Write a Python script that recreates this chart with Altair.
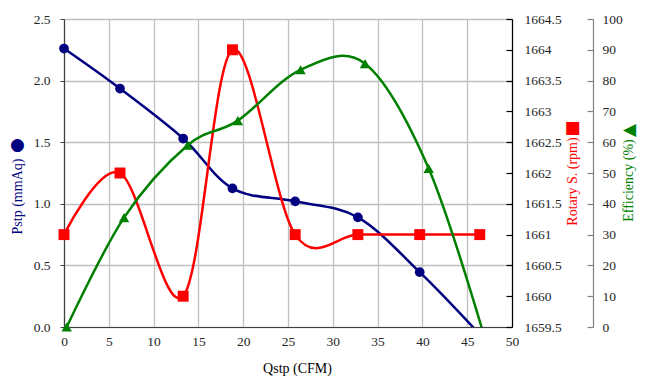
import altair as alt
import pandas as pd

# ---- data ----
q_main = [0.0, 6.25, 13.3, 18.8, 25.8, 32.8, 39.7, 46.4]
pstp = [2.26, 1.935, 1.53, 1.125, 1.02, 0.89, 0.445, -0.06]
rotary = [1661, 1662, 1660, 1664, 1661, 1661, 1661, 1661]
q_eff = [0.3, 6.7, 13.8, 19.4, 26.4, 33.6, 40.7, 47.0]
eff = [0, 35.5, 59, 67, 83.5, 85.5, 51.5, -4]

x_ticks = [0, 5, 10, 15, 20, 25, 30, 35, 40, 45, 50]
pstp_ticks = [0.0, 0.5, 1.0, 1.5, 2.0, 2.5]
rot_ticks = [1659.5, 1660, 1660.5, 1661, 1661.5, 1662, 1662.5, 1663, 1663.5, 1664, 1664.5]
eff_ticks = [0, 10, 20, 30, 40, 50, 60, 70, 80, 90, 100]

df_p = pd.DataFrame({"Q": q_main, "v": pstp})
df_r = pd.DataFrame({"Q": q_main, "v": rotary})
df_e = pd.DataFrame({"Q": q_eff, "v": eff})

NAVY = "#000080"
RED = "#FF0000"
GREEN = "#008000"
GRID = "#C0C0C0"
FONT = "Liberation Serif"
SYM_FONT = "DejaVu Sans"

txt = dict(labelFont=FONT, titleFont=FONT, labelFontSize=13.5, titleFontSize=14,
           labelColor="#262626", titleFontWeight="normal", labelFlush=False)

x_enc = alt.X(
    "Q:Q",
    scale=alt.Scale(domain=[0, 50], nice=False, zero=False),
    axis=alt.Axis(
        values=x_ticks, format="d", title="Qstp (CFM)", grid=True,
        gridColor=GRID, gridWidth=1.3, ticks=False, tickSize=0,
        domainColor="#404040", domainWidth=1.2, labelPadding=7,
        titleX=233, titleY=41, titleBaseline="middle", titleAlign="center",
        **txt,
    ),
)

# Pstp
y_p = alt.Y(
    "v:Q",
    scale=alt.Scale(domain=[0, 2.5], nice=False, zero=False),
    axis=alt.Axis(
        orient="left", values=pstp_ticks, format=".1f", grid=True,
        gridColor=GRID, gridWidth=1.3, domainColor="#404040", domainWidth=1.2,
        tickColor="#404040", tickSize=4, labelPadding=10,
        title="Pstp (mmAq)", titleColor=NAVY, titleAngle=270,
        titleX=-47, titleY=177, titleBaseline="middle", titleAlign="center",
        **txt,
    ),
)
p_line = alt.Chart(df_p).mark_line(
    color=NAVY, strokeWidth=2.5, interpolate="cardinal", clip=True
).encode(x=x_enc, y=y_p)
p_pts = alt.Chart(df_p).transform_filter("datum.v >= 0").mark_point(
    shape="circle", filled=True, color=NAVY, size=95, opacity=1
).encode(x=x_enc, y=y_p)
layer_p = alt.layer(p_line, p_pts)

# Rotary speed
y_r = alt.Y(
    "v:Q",
    scale=alt.Scale(domain=[1659.5, 1664.5], nice=False, zero=False),
    axis=alt.Axis(
        orient="right", values=rot_ticks, labelExpr="'' + datum.value",
        grid=False, ticks=False, tickSize=0, domainColor="black",
        domainWidth=1.2, labelPadding=12,
        title="Rotary S. (rpm)", titleColor=RED, titleAngle=270,
        titleX=60, titleY=162, titleBaseline="middle", titleAlign="center",
        **txt,
    ),
)
r_line = alt.Chart(df_r).mark_line(
    color=RED, strokeWidth=2.5, interpolate="cardinal", clip=True
).encode(x=x_enc, y=y_r)
r_pts = alt.Chart(df_r).mark_point(
    shape="square", filled=True, color=RED, size=120, opacity=1
).encode(x=x_enc, y=y_r)
layer_r = alt.layer(r_line, r_pts)

# Efficiency
y_e = alt.Y(
    "v:Q",
    scale=alt.Scale(domain=[0, 100], nice=False, zero=False),
    axis=alt.Axis(
        orient="right", offset=81, values=eff_ticks, format="d",
        grid=False, ticks=False, tickSize=0, domainColor="#808080",
        domainWidth=1.2, labelPadding=9,
        title="Efficiency (%)", titleColor=GREEN, titleAngle=270,
        titleX=35, titleY=161, titleBaseline="middle", titleAlign="center",
        **txt,
    ),
)
e_line = alt.Chart(df_e).mark_line(
    color=GREEN, strokeWidth=2.5, interpolate="cardinal", clip=True
).encode(x=x_enc, y=y_e)
e_pts = alt.Chart(df_e).transform_filter("datum.v >= 0").mark_point(
    shape="triangle-up", filled=True, color=GREEN, size=110, opacity=1
).encode(x=x_enc, y=y_e)
layer_e = alt.layer(e_line, e_pts)

# guide-only layers: inward tick marks of the right axes + the series symbols
sym = dict(titleFont=SYM_FONT, titleFontSize=17, titleFontWeight="normal",
           titleBaseline="middle", titleAlign="center", labels=False,
           domain=False, grid=False)
t_p = alt.Chart(df_p).mark_point(opacity=0).encode(
    x=x_enc,
    y=alt.Y(
        "v:Q",
        scale=alt.Scale(domain=[0, 2.5], nice=False, zero=False),
        axis=alt.Axis(
            orient="left", ticks=False, tickSize=0, values=pstp_ticks,
            title="●", titleColor=NAVY, titleAngle=0, titleX=-47, titleY=125,
            **sym,
        ),
    ),
)
t_r = alt.Chart(df_r).mark_point(opacity=0).encode(
    x=x_enc,
    y=alt.Y(
        "v:Q",
        scale=alt.Scale(domain=[1659.5, 1664.5], nice=False, zero=False),
        axis=alt.Axis(
            orient="left", offset=-448, values=rot_ticks, tickSize=6,
            tickColor="black", tickWidth=1.2,
            title="■", titleColor=RED, titleAngle=0, titleX=60, titleY=108,
            **sym,
        ),
    ),
)
t_e = alt.Chart(df_e).mark_point(opacity=0).encode(
    x=x_enc,
    y=alt.Y(
        "v:Q",
        scale=alt.Scale(domain=[0, 100], nice=False, zero=False),
        axis=alt.Axis(
            orient="left", offset=-529, values=eff_ticks, tickSize=6,
            tickColor="#808080", tickWidth=1.2,
            title="▲", titleColor=GREEN, titleAngle=270, titleX=35, titleY=111,
            **sym,
        ),
    ),
)

chart = (
    alt.layer(layer_p, layer_r, layer_e, t_p, t_r, t_e)
    .resolve_scale(y="independent")
    .properties(
        width=448, height=308,
        autosize=alt.AutoSizeParams(type="none"),
        padding={"left": 56, "top": 11, "right": 127, "bottom": 55},
        background="white",
    )
    .configure(font=FONT)
    .configure_view(strokeWidth=0)
)

chart.save("out.html", embed_options={"renderer": "svg", "actions": False})
